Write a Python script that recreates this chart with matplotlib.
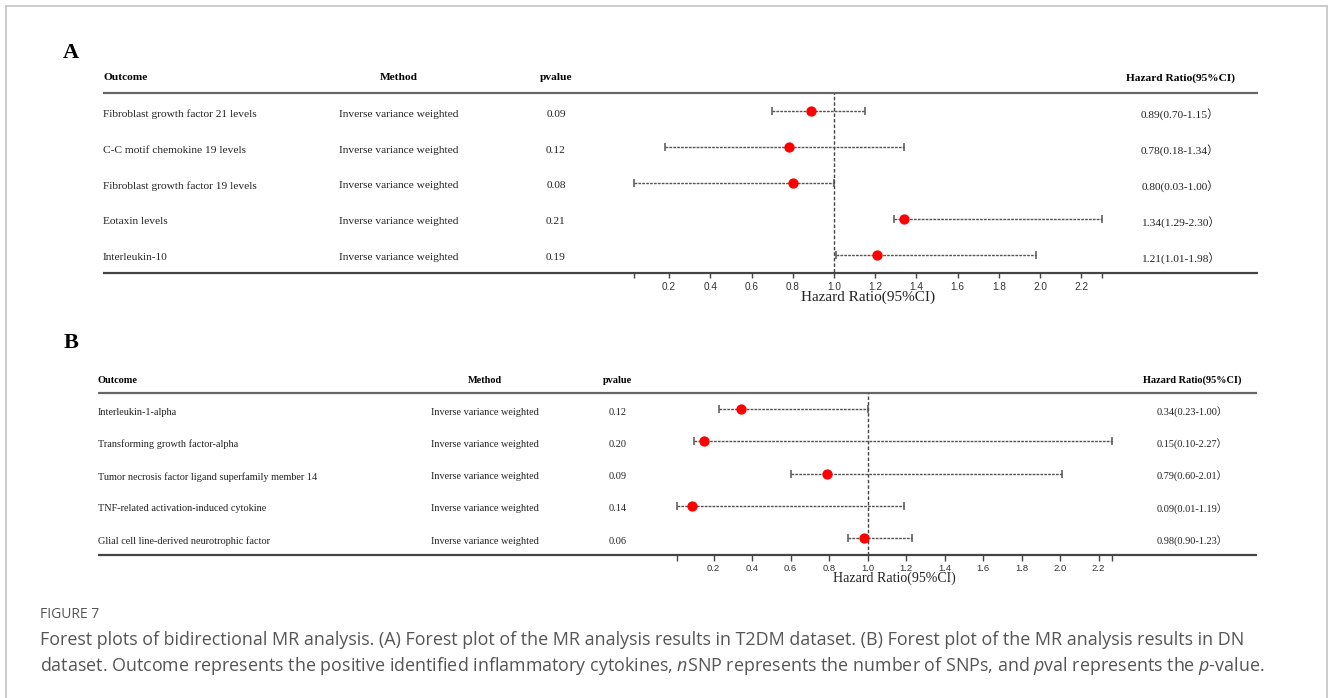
import matplotlib
matplotlib.use('Agg')
import matplotlib.pyplot as plt
from matplotlib.lines import Line2D

W, H = 1330, 698

# ---------------- data ----------------
headers = ['Outcome', 'Method', 'pvalue', 'Hazard Ratio(95%CI)']
tick_values = [0.2, 0.4, 0.6, 0.8, 1.0, 1.2, 1.4, 1.6, 1.8, 2.0, 2.2]
axis_label = 'Hazard Ratio(95%CI)'

a_outcomes = ['Fibroblast growth factor 21 levels',
              'C-C motif chemokine 19 levels',
              'Fibroblast growth factor 19 levels',
              'Eotaxin levels',
              'Interleukin-10']
a_methods = ['Inverse variance weighted'] * 5
a_pvalues = [0.09, 0.12, 0.08, 0.21, 0.19]
a_hr = [0.89, 0.78, 0.80, 1.34, 1.21]
a_lo = [0.70, 0.18, 0.03, 1.29, 1.01]
a_hi = [1.15, 1.34, 1.00, 2.30, 1.98]

b_outcomes = ['Interleukin-1-alpha',
              'Transforming growth factor-alpha',
              'Tumor necrosis factor ligand superfamily member 14',
              'TNF-related activation-induced cytokine',
              'Glial cell line-derived neurotrophic factor']
b_methods = ['Inverse variance weighted'] * 5
b_pvalues = [0.12, 0.20, 0.09, 0.14, 0.06]
b_hr = [0.34, 0.15, 0.79, 0.09, 0.98]
b_lo = [0.23, 0.10, 0.60, 0.01, 0.90]
b_hi = [1.00, 2.27, 2.01, 1.19, 1.23]

caption_title = 'FIGURE 7'
caption_lines = [
    'Forest plots of bidirectional MR analysis. (A) Forest plot of the MR analysis results in T2DM dataset. (B) Forest plot of the MR analysis results in DN',
    r'dataset. Outcome represents the positive identified inflammatory cytokines, $\mathit{n}$SNP represents the number of SNPs, and $\mathit{p}$val represents the $\mathit{p}$-value.',
]

# ---------------- style ----------------
SERIF = ['Liberation Serif', 'Noto Sans CJK SC', 'DejaVu Serif']
plt.rcParams['mathtext.fontset'] = 'custom'
plt.rcParams['mathtext.rm'] = 'Open Sans'
plt.rcParams['mathtext.it'] = 'Open Sans:italic'

fig = plt.figure(figsize=(W / 100, H / 100), dpi=100)
fig.patch.set_facecolor('white')


def fx(x):
    return x / W


def fy(y):
    return 1 - y / H


def draw_panel(letter, letter_xy, top, bot, line_x, forest_x, cols,
               outcomes, methods, pvalues, hr, lo, hi,
               fs, fs_tick, fs_label, header_y, text_dy=0.06):
    n = len(outcomes)
    # table axes in pixel x units
    ax_t = fig.add_axes([0, fy(bot), 1, (bot - top) / H])
    ax_t.set_xlim(0, W)
    ax_t.set_ylim(n - 0.5, -0.5)
    ax_t.axis('off')
    ax_t.patch.set_alpha(0)

    # horizontal rules
    ax_t.plot(line_x, [-0.5, -0.5], color='#666666', lw=1.6,
              solid_capstyle='butt', clip_on=False)
    ax_t.plot(line_x, [n - 0.5, n - 0.5], color='#444444', lw=1.6,
              solid_capstyle='butt', clip_on=False)

    # headers
    has = ['left', 'center', 'center', 'center']
    for c, h, a in zip(cols, headers, has):
        ax_t.text(c, header_y, h, ha=a, va='center_baseline',
                  fontsize=fs, fontweight='bold', family=SERIF,
                  clip_on=False)

    for i in range(n):
        yt = i + text_dy
        ax_t.text(cols[0], yt, outcomes[i], ha='left', va='center_baseline',
                  fontsize=fs, family=SERIF, color='#222222')
        ax_t.text(cols[1], yt, methods[i], ha='center', va='center_baseline',
                  fontsize=fs, family=SERIF, color='#222222')
        ax_t.text(cols[2], yt, f'{pvalues[i]:.2f}', ha='center',
                  va='center_baseline', fontsize=fs, family=SERIF,
                  color='#222222')
        ax_t.text(cols[3], yt, f'{hr[i]:.2f}({lo[i]:.2f}-{hi[i]:.2f}\uff09',
                  ha='center', va='center_baseline', fontsize=fs,
                  family=SERIF, color='#222222')

    # letter
    fig.text(fx(letter_xy[0]), fy(letter_xy[1]), letter, ha='center',
             va='center', fontsize=16, fontweight='bold',
             family=SERIF)

    # forest axes
    x0, x1 = forest_x
    ax_f = fig.add_axes([fx(x0), fy(bot), (x1 - x0) / W, (bot - top) / H])
    ax_f.patch.set_alpha(0)
    lo_min, hi_max = min(lo), max(hi)
    ax_f.set_xlim(lo_min, hi_max)
    ax_f.set_ylim(n - 0.5, -0.5)
    for s in ax_f.spines.values():
        s.set_visible(False)
    ax_f.set_yticks([])
    ticks = [lo_min] + tick_values + [hi_max]
    labels = [''] + [f'{t:.1f}' for t in tick_values] + ['']
    ax_f.set_xticks(ticks)
    ax_f.set_xticklabels(labels, fontsize=fs_tick,
                         family=['Liberation Sans', 'DejaVu Sans'],
                         color='#333333')
    ax_f.tick_params(axis='x', direction='out', length=4, width=1,
                     color='#444444', pad=2.5)
    ax_f.set_xlabel(axis_label, fontsize=fs_label, family=SERIF,
                    labelpad=-1, color='#222222')

    ax_f.axvline(1.0, color='#444444', lw=1, ls=(0, (2.5, 1.5)), zorder=1)

    ys = list(range(n))
    xerr = [[h - l for h, l in zip(hr, lo)], [u - h for h, u in zip(hr, hi)]]
    eb = ax_f.errorbar(hr, ys, xerr=xerr, fmt='none', ecolor='#555555',
                       elinewidth=1, capsize=2.6, capthick=1.1, zorder=2,
                       clip_on=False)
    for lc in eb[2]:
        lc.set_linestyle((0, (2, 0.8)))
    for cap in eb[1]:
        cap.set_clip_on(False)
    ax_f.plot(hr, ys, 'o', color='#ff0000', ms=6.4, zorder=3, clip_on=False)


draw_panel('A', (71, 53.5), 93, 272.5, (103, 1258), (634, 1102),
           (103, 399, 556, 1180),
           a_outcomes, a_methods, a_pvalues, a_hr, a_lo, a_hi,
           fs=8.2, fs_tick=7.2, fs_label=11, header_y=-0.95)

draw_panel('B', (71, 343), 393, 554.5, (98, 1257), (677, 1112),
           (98, 485, 618, 1192),
           b_outcomes, b_methods, b_pvalues, b_hr, b_lo, b_hi,
           fs=7.4, fs_tick=6.8, fs_label=10, header_y=-0.93)

# caption
fig.text(fx(40), fy(613), caption_title, ha='left', va='center_baseline',
         fontsize=10, family=['Open Sans', 'DejaVu Sans'], color='#555555')
for k, line in enumerate(caption_lines):
    fig.text(fx(40), fy(638 + 25 * k), line, ha='left',
             va='center_baseline', fontsize=12.9,
             family=['Open Sans', 'DejaVu Sans'], color='#555555')

# outer frame
bc = '#c8c8c8'
fig.add_artist(Line2D([fx(6), fx(6)], [0, fy(6)], transform=fig.transFigure,
                      color=bc, lw=1.3))
fig.add_artist(Line2D([fx(1327), fx(1327)], [0, fy(6)],
                      transform=fig.transFigure, color=bc, lw=1.3))
fig.add_artist(Line2D([fx(6), fx(1327)], [fy(6), fy(6)],
                      transform=fig.transFigure, color=bc, lw=1.3))

fig.savefig('out.png', dpi=100, facecolor='white')
